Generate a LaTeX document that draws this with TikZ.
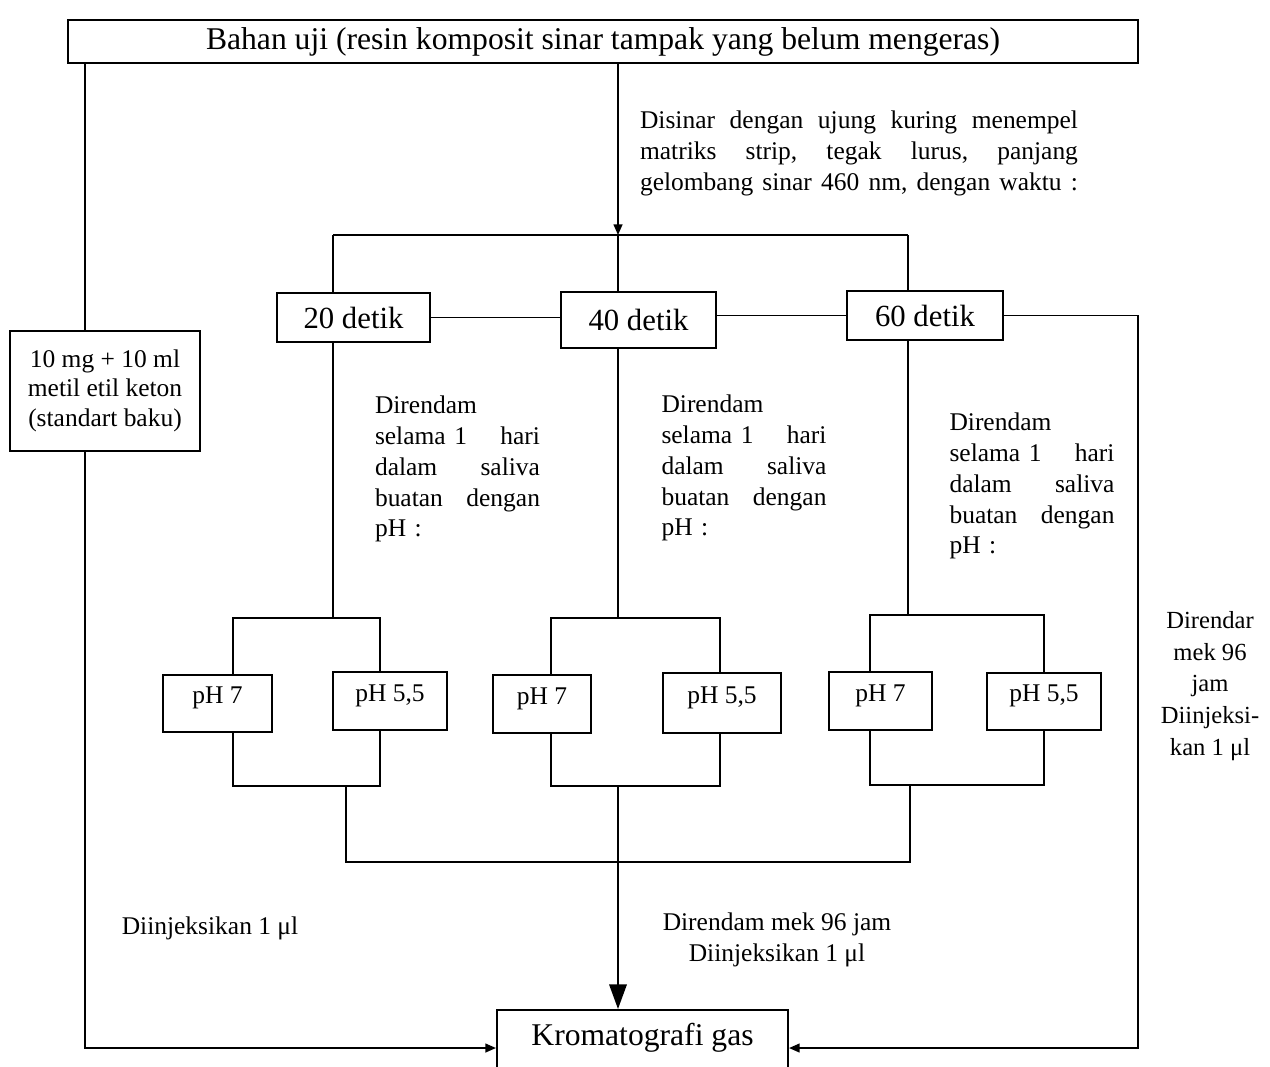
\documentclass[tikz,border=0pt]{standalone}
\usepackage{fontspec}
\setmainfont{Liberation Serif}
\usetikzlibrary{arrows.meta, positioning, calc}

\newcommand{\jline}[2][3.3cm]{\makebox[#1][l]{#2}}
\newcommand{\rendamtext}{Direndam\\\jline{selama 1\hfill hari}\\\jline{dalam\hfill saliva}\\\jline{buatan\hfill dengan}\\pH :}

\begin{document}
\begin{tikzpicture}[
    x=0.02cm, y=-0.02cm,
    box/.style={rectangle, draw, line width=1.2pt, inner sep=0pt, align=center},
    detik/.style={box, font=\fontsize{17.5}{20}\selectfont},
    phbox/.style={box, font=\fontsize{14.5}{17}\selectfont, text height=10pt, text depth=10pt},
    link/.style={line width=0.9pt},
    thinlink/.style={line width=0.5pt},
    arrow/.style={link, -{Triangle[length=6pt, width=5pt]}},
    bigarrow/.style={link, -{Triangle[length=14pt, width=10pt]}},
    note/.style={font=\fontsize{14.5}{17.6}\selectfont, inner sep=0pt, align=left}
]
\useasboundingbox (0,0) rectangle (1270,1066);

% Top box
\node[box, minimum width=21.4cm, minimum height=0.86cm, font=\fontsize{18}{21}\selectfont] (title) at (603,41.5)
    {Bahan uji (resin komposit sinar tampak yang belum mengeras)};

% Standard
\node[box, minimum width=3.8cm, minimum height=2.4cm, font=\fontsize{14.5}{17}\selectfont] (std) at (105,391)
    {\raisebox{4.5pt}{\begin{tabular}{@{}c@{}}10 mg + 10 ml\\metil etil keton\\(standart baku)\end{tabular}}};

% Curing times
\node[detik, minimum width=3.06cm, minimum height=0.98cm] (d20) at (353.5,317.5) {20 detik};
\node[detik, minimum width=3.1cm, minimum height=1.12cm] (d40) at (638.5,320) {40 detik};
\node[detik, minimum width=3.12cm, minimum height=0.98cm] (d60) at (925,315.5) {60 detik};

% pH boxes
\node[phbox, minimum width=2.18cm, minimum height=1.14cm] (a7) at (217.5,703.5) {pH 7};
\node[phbox, minimum width=2.28cm, minimum height=1.16cm] (a55) at (390,701) {pH 5,5};
\node[phbox, minimum width=1.96cm, minimum height=1.16cm] (b7) at (542,704) {pH 7};
\node[phbox, minimum width=2.36cm, minimum height=1.2cm] (b55) at (722,703) {pH 5,5};
\node[phbox, minimum width=2.06cm, minimum height=1.16cm] (c7) at (880.5,701) {pH 7};
\node[phbox, minimum width=2.28cm, minimum height=1.14cm] (c55) at (1044,701.5) {pH 5,5};

% Gas chromatography
\node[box, minimum width=5.82cm, minimum height=1.3cm, font=\fontsize{18}{21}\selectfont,
      text height=13pt, text depth=10pt] (krom) at (642.5,1042.5) {Kromatografi gas};

% Notes
\node[note, text width=8.76cm] (sinar) at (859,153)
    {\jline[8.76cm]{Disinar\hfill dengan\hfill ujung\hfill kuring\hfill menempel}\\
     \jline[8.76cm]{matriks\hfill strip,\hfill tegak\hfill lurus,\hfill panjang}\\
     \jline[8.76cm]{gelombang\hfill sinar\hfill 460\hfill nm,\hfill dengan\hfill waktu\hfill :}};
\node[note, text width=3.3cm] (rendama) at (457.5,469) {\rendamtext};
\node[note, text width=3.3cm] (rendamb) at (744,468) {\rendamtext};
\node[note, text width=3.3cm] (rendamc) at (1032,486) {\rendamtext};
\node[note, align=center, font=\fontsize{14}{18}\selectfont] (rnote) at (1210,686)
    {Direndar\\mek 96\\jam\\Diinjeksi-\\kan 1 μl};
\node[note] (lnote) at (210,928) {Diinjeksikan 1 μl};
\node[note, align=center] (bnote) at (777,939.5) {Direndam mek 96 jam\\Diinjeksikan 1 μl};

% Junctions
\coordinate (split) at (618,235);
\coordinate (atop) at (333,618);
\coordinate (btop) at (618,618);
\coordinate (ctop) at (908,615);
\coordinate (abot) at (346,786);
\coordinate (bbot) at (618,786);
\coordinate (cbot) at (910,785);
\coordinate (merge) at (618,862);
\coordinate (lx) at (85,1048);
\coordinate (rx) at (1138,1048);

% Curing branch
\draw[arrow] (title.south -| split) -- (split);
\draw[link] (split -| atop) -- (split -| ctop);
\draw[link] (split -| atop) -- (d20.north -| atop);
\draw[link] (split) -- (d40.north -| split);
\draw[link] (split -| ctop) -- (d60.north -| ctop);
\draw[thinlink] (d20.east) -- (d40.west |- d20.east);
\draw[thinlink] (d40.east |- d60.west) -- (d60.west);

% Soaking
\draw[link] (d20.south -| atop) -- (atop);
\draw[link] (d40.south -| btop) -- (btop);
\draw[link] (d60.south -| ctop) -- (ctop);
\draw[link] ([xshift=0.31cm]a7.north) |- (atop) -| ([xshift=-0.2cm]a55.north);
\draw[link] ([xshift=0.18cm]b7.north) |- (btop) -| ([xshift=-0.04cm]b55.north);
\draw[link] ([xshift=-0.21cm]c7.north) |- (ctop) -| (c55.north);
\draw[link] ([xshift=0.31cm]a7.south) |- (abot) -| ([xshift=-0.2cm]a55.south);
\draw[link] ([xshift=0.18cm]b7.south) |- (bbot) -| ([xshift=-0.04cm]b55.south);
\draw[link] ([xshift=-0.21cm]c7.south) |- (cbot) -| (c55.south);
\draw[link] (abot) |- (merge) -| (cbot);
\draw[bigarrow] (bbot) -- (krom.north -| bbot);

% Standard branch
\draw[link] (title.south -| lx) -- (std.north -| lx);
\draw[arrow] (std.south -| lx) |- (krom.west |- lx);

% Direct branch
\draw[arrow] (d60.east) -| (rx) -- (krom.east |- rx);

\end{tikzpicture}
\end{document}
